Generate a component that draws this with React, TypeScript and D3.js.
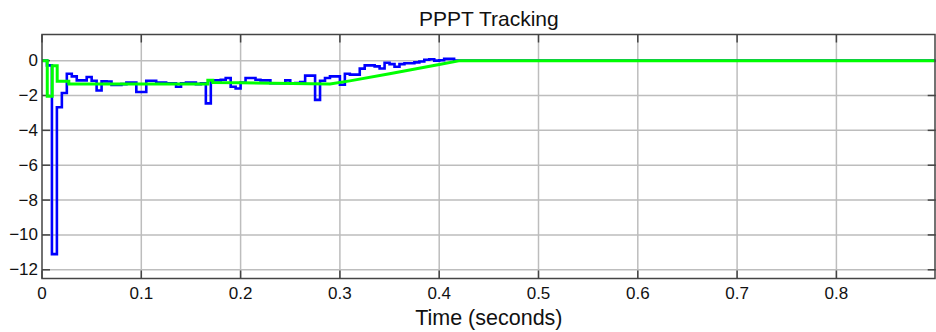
import React from "react";
import * as d3 from "d3";

// Sample period of the measured (blue) signal, seconds
const SAMPLE_DT = 0.005;

// Measured PPPT signal, one value per sample starting at t = 0
const measured: number[] = [
  0, -0.27, -11.1, -2.67, -1.86, -0.75, -0.9, -1.13, -1.13, -0.94,
  -1.15, -1.71, -1.19, -1.2, -1.4, -1.4, -1.35, -1.25, -1.25, -1.8,
  -1.8, -1.15, -1.15, -1.25, -1.25, -1.3, -1.3, -1.5, -1.3, -1.25,
  -1.25, -1.35, -1.3, -2.45, -1.13, -1.13, -1.1, -1.0, -1.5, -1.6,
  -1.25, -1.0, -1.0, -1.1, -1.13, -1.13, -1.3, -1.3, -1.3, -1.13,
  -1.3, -1.29, -1.23, -0.86, -0.86, -2.25, -1.15, -1.0, -0.9, -0.9,
  -1.38, -0.75, -0.8, -0.8, -0.46, -0.27, -0.27, -0.33, -0.45, -0.12,
  -0.2, -0.35, -0.2, -0.15, -0.15, -0.1, -0.05, 0.05, 0.08, 0.0,
  0.02, 0.1, 0.1, 0.0,
];

// Reference trajectory (green), as time / value pairs
const refTimes: number[] = [
  0, 0.0053, 0.0053, 0.0103, 0.0103, 0.0153, 0.0153, 0.027, 0.027, 0.167,
  0.167, 0.172, 0.172, 0.2, 0.29, 0.31, 0.35, 0.4, 0.421, 0.9,
];
const refValues: number[] = [
  0, 0, -2.05, -2.05, -0.3, -0.3, -1.18, -1.18, -1.34, -1.34,
  -1.12, -1.12, -1.25, -1.27, -1.34, -1.16, -0.75, -0.22, 0, 0,
];

const xTicks: number[] = [0, 0.1, 0.2, 0.3, 0.4, 0.5, 0.6, 0.7, 0.8];
const yTicks: number[] = [0, -2, -4, -6, -8, -10, -12];

const TITLE = "PPPT Tracking";
const X_LABEL = "Time (seconds)";

const W = 936;
const H = 332;
const plot = { left: 42, right: 935.7, top: 34.5, bottom: 278.5 };
const FONT = "'Liberation Sans', Arial, Helvetica, sans-serif";

export default function App() {
  const x = d3.scaleLinear().domain([0, 0.9]).range([plot.left, plot.right]);
  const y = d3.scaleLinear().domain([-12.5, 1.5]).range([plot.bottom, plot.top]);

  const measuredPts: [number, number][] = measured.map((v, k) => [k * SAMPLE_DT, v]);
  measuredPts.push([0.9, 0]);
  const stepLine = d3
    .line<[number, number]>()
    .x((d) => x(d[0]))
    .y((d) => y(d[1]))
    .curve(d3.curveStepAfter);

  const refPts: [number, number][] = refTimes.map((t, i) => [t, refValues[i]]);
  const refLine = d3
    .line<[number, number]>()
    .x((d) => x(d[0]))
    .y((d) => y(d[1]));

  const fmtY = (v: number) => (v < 0 ? "\u2212" + Math.abs(v) : String(v));
  const tickLen = 8;

  return (
    <svg
      width={W}
      height={H}
      style={{ position: "absolute", left: 0, top: 0, background: "#fff" }}
      fontFamily={FONT}
    >
      <rect x={0} y={0} width={W} height={H} fill="#fff" />
      <defs>
        <clipPath id="plotClip">
          <rect
            x={plot.left}
            y={plot.top}
            width={plot.right - plot.left}
            height={plot.bottom - plot.top}
          />
        </clipPath>
      </defs>

      {/* grid */}
      <g stroke="#bdbdbd" strokeWidth={1.5}>
        {xTicks.slice(1).map((t) => (
          <line key={"gx" + t} x1={x(t)} x2={x(t)} y1={plot.top} y2={plot.bottom} />
        ))}
        {yTicks.map((t) => (
          <line key={"gy" + t} x1={plot.left} x2={plot.right} y1={y(t)} y2={y(t)} />
        ))}
      </g>

      {/* tick marks on all four sides */}
      <g stroke="#444" strokeWidth={1.5}>
        {xTicks.map((t) => (
          <g key={"tx" + t}>
            <line x1={x(t)} x2={x(t)} y1={plot.bottom} y2={plot.bottom - tickLen} />
            <line x1={x(t)} x2={x(t)} y1={plot.top} y2={plot.top + tickLen} />
          </g>
        ))}
        {yTicks.map((t) => (
          <g key={"ty" + t}>
            <line x1={plot.left} x2={plot.left + tickLen} y1={y(t)} y2={y(t)} />
            <line x1={plot.right} x2={plot.right - tickLen} y1={y(t)} y2={y(t)} />
          </g>
        ))}
      </g>

      {/* signals */}
      <g clipPath="url(#plotClip)" fill="none" strokeLinejoin="miter">
        <path d={stepLine(measuredPts) || ""} stroke="#0000ff" strokeWidth={2.6} />
        <path d={refLine(refPts) || ""} stroke="#00ff00" strokeWidth={3} />
      </g>

      {/* axes box */}
      <rect
        x={plot.left}
        y={plot.top}
        width={plot.right - plot.left - 0.7}
        height={plot.bottom - plot.top}
        fill="none"
        stroke="#444"
        strokeWidth={1.5}
      />

      {/* tick labels */}
      <g fontSize={17} fill="#111">
        {xTicks.map((t) => (
          <text key={"lx" + t} x={x(t)} y={299} textAnchor="middle">
            {String(t)}
          </text>
        ))}
        {yTicks.map((t) => (
          <text key={"ly" + t} x={38} y={y(t)} textAnchor="end" dominantBaseline="central">
            {fmtY(t)}
          </text>
        ))}
      </g>

      <text x={(plot.left + plot.right) / 2} y={26} textAnchor="middle" fontSize={21} fill="#111">
        {TITLE}
      </text>
      <text x={(plot.left + plot.right) / 2} y={325} textAnchor="middle" fontSize={21.5} fill="#111">
        {X_LABEL}
      </text>
    </svg>
  );
}
